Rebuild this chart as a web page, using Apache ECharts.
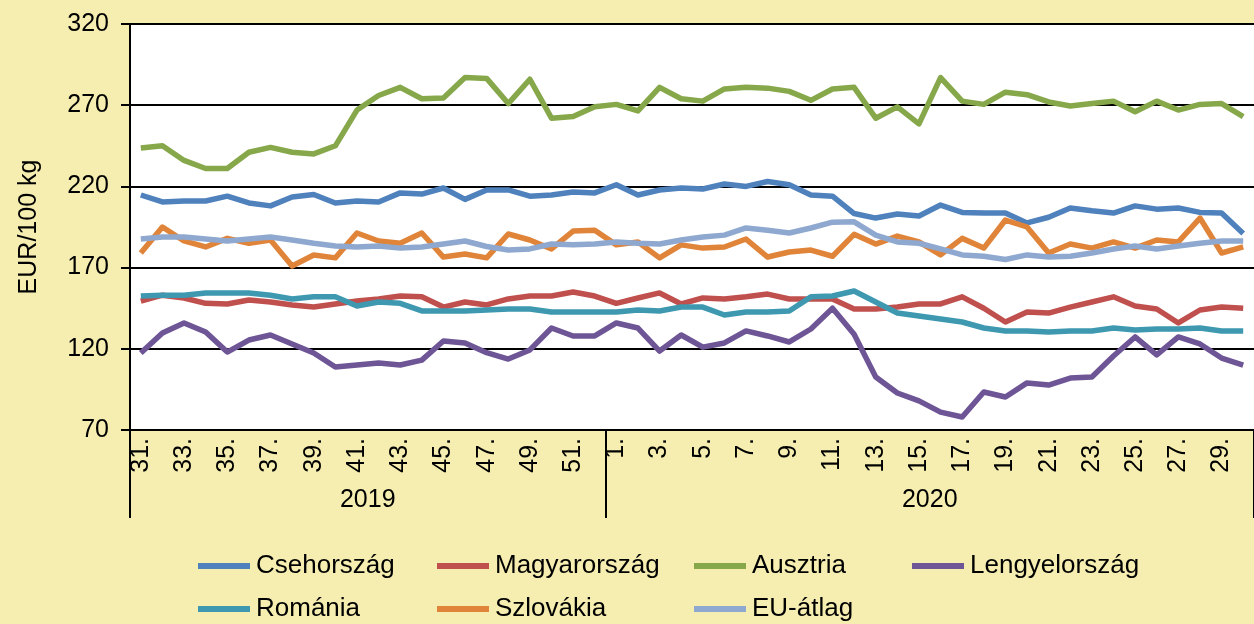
<!DOCTYPE html>
<html>
<head>
<meta charset="utf-8">
<script src="https://cdn.jsdelivr.net/npm/echarts@6/dist/echarts.min.js"></script>
<style>
  html, body { margin: 0; padding: 0; background: #F5EEB0; }
  #chart { width: 1254px; height: 624px; }
</style>
</head>
<body>
<div id="chart"></div>
<script>
// hetek: 2019. 31-52., 2020. 1-30.
var weeks = [31, 32, 33, 34, 35, 36, 37, 38, 39, 40, 41, 42, 43, 44, 45, 46, 47, 48, 49, 50, 51, 52,
  1, 2, 3, 4, 5, 6, 7, 8, 9, 10, 11, 12, 13, 14, 15, 16, 17, 18, 19, 20, 21, 22, 23, 24, 25, 26, 27, 28, 29, 30];
var years = ["2019", "2020"];
var yearStart = [0, 22, 52]; // csoporthatárok (kategória index)
var yearMid = [11, 37];

var cseh = [214.7, 210.4, 211, 211, 214, 209.8, 208, 213.5, 215, 209.8, 211, 210.4, 216, 215.3, 219, 212, 217.8,
  217.8, 214, 214.7, 216.5, 216, 221, 214.7, 217.8, 219, 218.4, 221.5, 220, 223, 221, 214.7, 214, 203.3,
  200.5, 203, 201.8, 208.5, 204, 203.6, 203.6, 197.5, 201, 206.7, 205, 203.6, 208, 206, 206.7, 204, 203.6, 191];
var magyar = [149.4, 153, 151.3, 148, 147.6, 150, 148.8, 147, 145.7, 147.6, 149.4, 150.7, 152.5, 152, 145.7, 148.8, 147,
  150.7, 152.5, 152.5, 155, 152.5, 148, 151.3, 154.4, 147.6, 151.3, 150.7, 152, 153.7, 150.7, 150.7, 150.7, 144.5,
  144.5, 145.7, 147.6, 147.6, 152, 145, 136.5, 142.7, 142, 145.7, 148.8, 152, 146.4, 144.5, 135.9, 143.9, 145.7, 145];
var ausztria = [243.6, 245, 236, 231, 231, 241, 244, 241, 240, 245, 267, 276, 281, 274, 274.5, 287, 286.5,
  271, 286, 262, 263, 269, 270.5, 266.5, 281, 274, 272.5, 280, 281, 280.5, 278.5, 273, 280, 281,
  262, 269, 258.5, 287, 272.5, 270.5, 278, 276.5, 272, 269.5, 271, 272.5, 266, 272.5, 267, 270.5, 271, 263];
var lengyel = [117.4, 129.7, 135.9, 130.3, 118, 125.4, 128.5, 123, 117.4, 108.8, 110, 111.3, 110, 113, 124.8, 123.6, 117.6,
  113.7, 119.3, 132.8, 127.9, 127.9, 135.9, 132.8, 118.6, 128.5, 121, 123.6, 131, 127.9, 124.2, 132.2, 145, 129,
  102.6, 92.8, 87.9, 81, 78, 93.4, 90.3, 99, 97.7, 102, 102.6, 115.6, 127.3, 116.2, 127.3, 123, 114.3, 110];
var romania = [152.5, 153, 153, 154.4, 154.4, 154.4, 153, 150.7, 152, 152, 146.4, 148.8, 148, 143.3, 143.3, 143.3, 143.9,
  144.5, 144.5, 142.7, 142.7, 142.7, 142.7, 143.9, 143.3, 145.7, 145.7, 140.8, 142.7, 142.7, 143.3, 152, 152.5, 155.6,
  148.8, 142, 140.2, 138.3, 136.5, 132.8, 131, 131, 130.3, 131, 131, 132.8, 131.6, 132.2, 132.2, 132.8, 131, 131];
var szlovak = [179, 195, 186.4, 182.7, 188, 185, 187, 171, 177.8, 176, 191.3, 186.4, 185, 191.3, 176.5, 178.4, 176,
  190.7, 187, 181.5, 192.5, 193, 184, 185.8, 176, 184, 182, 182.7, 187.6, 176.5, 179.6, 180.8, 177, 190.5,
  184.5, 189.4, 185.8, 177.8, 188, 182, 199.3, 195, 179, 184.5, 182, 185.8, 182, 187, 185.8, 200.5, 179, 182.7];
var euAtlag = [187.6, 188.8, 188.8, 187.6, 186.4, 187.6, 188.8, 187, 185, 183.3, 182.7, 183.3, 182, 182.7, 184.5, 186.4, 183,
  180.8, 181.5, 184.5, 184, 184.5, 185.8, 185, 184.5, 187, 188.8, 190, 194.4, 193, 191.3, 194.4, 198, 198.2,
  190, 185.8, 185, 181.5, 177.8, 177, 175, 177.8, 176.5, 177, 179, 181.5, 183.3, 181.5, 183.3, 185, 186.4, 186.4];

var seriesDefs = [
  { name: "Csehország", data: cseh, color: "#4F81BD" },
  { name: "Magyarország", data: magyar, color: "#C0504D" },
  { name: "Ausztria", data: ausztria, color: "#86A84A" },
  { name: "Lengyelország", data: lengyel, color: "#6D5596" },
  { name: "Románia", data: romania, color: "#3D98B0" },
  { name: "Szlovákia", data: szlovak, color: "#E0843A" },
  { name: "EU-átlag", data: euAtlag, color: "#8FA8CF" }
];

var font = "Liberation Sans, Arial, sans-serif";
var chart = echarts.init(document.getElementById("chart"));

// jelmagyarázat oszloponként, mint az eredetin
var legendCols = [
  { left: 198, data: ["Csehország", "Románia"] },
  { left: 437, data: ["Magyarország", "Szlovákia"] },
  { left: 694, data: ["Ausztria", "EU-átlag"] },
  { left: 912, data: ["Lengyelország"] }
];

var option = {
  backgroundColor: "#F5EEB0",
  animation: false,
  grid: {
    left: 130,
    top: 24,
    width: 1134,
    height: 406,
    show: true,
    backgroundColor: "#FFFFFF",
    borderWidth: 0
  },
  legend: legendCols.map(function (c) {
    return {
      left: c.left,
      top: 552,
      height: 80,
      padding: 0,
      orient: "vertical",
      itemGap: 15,
      itemWidth: 52,
      itemHeight: 6,
      icon: "rect",
      data: c.data,
      textStyle: { fontFamily: font, fontSize: 26, color: "#000", lineHeight: 28, padding: [0, 0, 0, 1] }
    };
  }),
  xAxis: [
    {
      type: "category",
      data: weeks,
      boundaryGap: true,
      axisLine: { lineStyle: { color: "#000", width: 2 } },
      axisTick: { show: false },
      axisLabel: {
        interval: 1,
        rotate: 90,
        margin: 8,
        fontFamily: font,
        fontSize: 25,
        color: "#000",
        formatter: function (v) { return v + "."; }
      }
    },
    {
      type: "value",
      position: "bottom",
      min: 0,
      max: 52,
      axisLine: { show: false },
      splitLine: { show: false },
      axisTick: {
        show: true,
        length: 88,
        customValues: yearStart,
        lineStyle: { color: "#000", width: 2 }
      },
      axisLabel: {
        customValues: yearMid,
        margin: 58,
        fontFamily: font,
        fontSize: 25,
        color: "#000",
        formatter: function (v) { return years[yearMid.indexOf(v)] || ""; }
      }
    }
  ],
  yAxis: {
    type: "value",
    min: 70,
    max: 320,
    interval: 50,
    name: "EUR/100 kg",
    nameLocation: "middle",
    nameGap: 88,
    nameRotate: 90,
    nameTextStyle: { fontFamily: font, fontSize: 25, color: "#000" },
    axisLine: { show: true, lineStyle: { color: "#000", width: 2 } },
    axisTick: { show: true, length: 9, lineStyle: { color: "#000", width: 2 } },
    axisLabel: { fontFamily: font, fontSize: 25, color: "#000", margin: 21 },
    splitLine: { lineStyle: { color: "#000", width: 2 } }
  },
  series: seriesDefs.map(function (s) {
    return {
      name: s.name,
      type: "line",
      data: s.data,
      symbol: "none",
      color: s.color,
      lineStyle: { width: 5.5, color: s.color, join: "round" }
    };
  })
};

chart.setOption(option);
</script>
</body>
</html>
